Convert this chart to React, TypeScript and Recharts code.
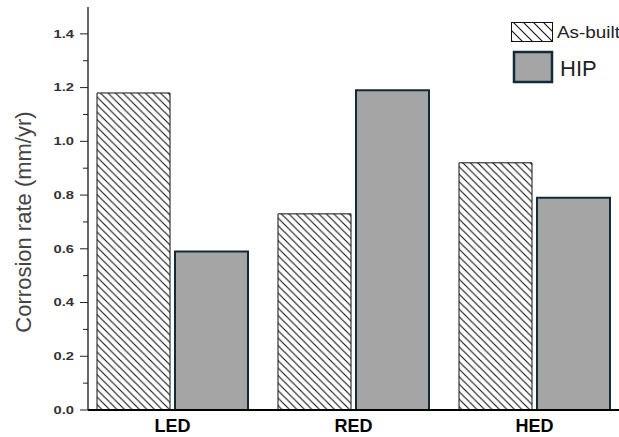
import React from "react";
import { Bar, BarChart, Legend, XAxis, YAxis } from "recharts";

const categories = ["LED", "RED", "HED"];
const asBuilt = [1.18, 0.73, 0.92];
const hip = [0.59, 1.19, 0.79];
const yTicks = [0, 0.1, 0.2, 0.3, 0.4, 0.5, 0.6, 0.7, 0.8, 0.9, 1.0, 1.1, 1.2, 1.3, 1.4];

const data = categories.map((name, i) => ({ name, asBuilt: asBuilt[i], hip: hip[i] }));

const FONT = "'Liberation Sans', Arial, sans-serif";

const YTick = ({ x, y, payload }: any) => {
  const v = payload.value;
  const major = Math.round(v * 10) % 2 === 0;
  return (
    <g>
      <line x1={x - (major ? 8 : 5)} x2={x} y1={y} y2={y} stroke="#222" strokeWidth={1} />
      {major && (
        <g transform={`translate(${x - 14},${y + 3.8}) scale(1.4,1)`}>
          <text textAnchor="end" fontSize={10.5} fontWeight="bold" fill="#333" fontFamily={FONT}>
            {v.toFixed(1)}
          </text>
        </g>
      )}
    </g>
  );
};

const YLabel = () => (
  <text
    x={23}
    y={222}
    transform="rotate(-90 23 222)"
    textAnchor="middle"
    dominantBaseline="central"
    fontSize={22}
    fill="#444"
    fontFamily={FONT}
  >
    Corrosion rate (mm/yr)
  </text>
);

const LegendBox = () => (
  <svg width={114} height={75}>
    <rect x={6.5} y={8.5} width={41} height={19} fill="url(#hatchWide)" stroke="#111" strokeWidth={1} />
    <g transform="translate(52,24) scale(1.18,1)">
      <text fontSize={16} fill="#222" fontFamily={FONT}>As-built</text>
    </g>
    <rect x={9} y={38} width={38} height={30} fill="#a5a5a5" stroke="#132a38" strokeWidth={2.5} />
    <text x={55} y={62} fontSize={22} fill="#222" fontFamily={FONT}>HIP</text>
  </svg>
);

export default function App() {
  return (
    <div style={{ position: "absolute", left: 0, top: 0, width: 619, height: 437, overflow: "hidden", background: "#fff" }}>
      <BarChart
        width={640}
        height={437}
        data={data}
        margin={{ top: 7, right: 15, left: 0, bottom: 0 }}
        barCategoryGap={15}
        barGap={5}
      >
        <defs>
          <pattern id="hatch" patternUnits="userSpaceOnUse" width={7.5} height={7.5}>
            <rect width={7.5} height={7.5} fill="#fff" />
            <path d="M-1,-1 L8.5,8.5 M-1,6.5 L1,8.5 M6.5,-1 L8.5,1" stroke="#111" strokeWidth={1.1} />
          </pattern>
          <pattern id="hatchWide" patternUnits="userSpaceOnUse" width={10} height={10}>
            <rect width={10} height={10} fill="#fff" />
            <path d="M-1,-1 L11,11 M-1,9 L1,11 M9,-1 L11,1" stroke="#111" strokeWidth={1.1} />
          </pattern>
        </defs>
        <XAxis
          dataKey="name"
          padding={{ left: -6, right: 0 }}
          height={27}
          tickLine={false}
          tickSize={0}
          tickMargin={9}
          axisLine={{ stroke: "#000", strokeWidth: 2 }}
          tick={{ fontSize: 18, fontWeight: "bold", fill: "#000", fontFamily: FONT }}
        />
        <XAxis
          xAxisId="top"
          dataKey="name"
          orientation="top"
          padding={{ left: -6, right: 0 }}
          height={0}
          tick={false}
          tickLine={false}
          axisLine={{ stroke: "#000", strokeWidth: 1.2 }}
        />
        <YAxis
          width={88}
          domain={[0, 1.5]}
          ticks={yTicks}
          interval={0}
          tickLine={false}
          tickSize={0}
          tickMargin={0}
          tick={<YTick />}
          axisLine={{ stroke: "#000", strokeWidth: 1.2 }}
          label={<YLabel />}
        />
        <Legend
          layout="horizontal"
          verticalAlign="middle"
          align="center"
          wrapperStyle={{ position: "absolute", left: 505, top: 14, width: 114, height: 75 }}
          content={() => <LegendBox />}
        />
        <Bar dataKey="asBuilt" fill="url(#hatch)" stroke="#111" strokeWidth={1} isAnimationActive={false} />
        <Bar dataKey="hip" fill="#a5a5a5" stroke="#132a38" strokeWidth={2} isAnimationActive={false} />
      </BarChart>
    </div>
  );
}
